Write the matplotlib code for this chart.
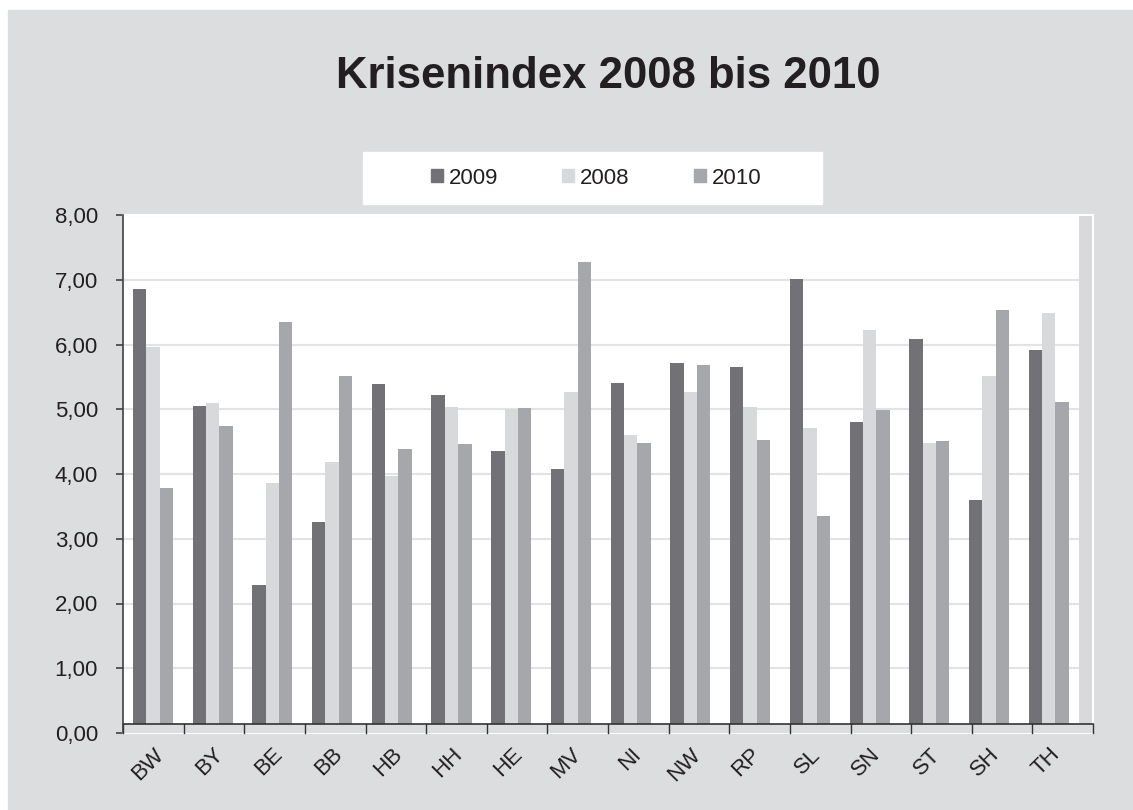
import matplotlib
matplotlib.use("Agg")
import matplotlib.pyplot as plt
import numpy as np
from matplotlib.patches import Rectangle, Patch

plt.rcParams['font.family'] = ['Liberation Sans', 'DejaVu Sans']

laender = ['BW', 'BY', 'BE', 'BB', 'HB', 'HH', 'HE', 'MV',
           'NI', 'NW', 'RP', 'SL', 'SN', 'ST', 'SH', 'TH']
v2009 = [6.86, 5.05, 2.29, 3.26, 5.39, 5.22, 4.36, 4.08,
         5.41, 5.72, 5.65, 7.01, 4.81, 6.09, 3.60, 5.92]
v2008 = [5.96, 5.10, 3.86, 4.19, 3.97, 5.03, 5.00, 5.27,
         4.61, 5.27, 5.03, 4.71, 6.23, 4.48, 5.52, 6.49]
v2010 = [3.78, 4.74, 6.35, 5.52, 4.38, 4.46, 5.02, 7.28,
         4.48, 5.68, 4.52, 3.35, 4.99, 4.51, 6.54, 5.11]
serien = ['2009', '2008', '2010']

bg = '#dcdddf'
farben = ['#727276', '#d8d9db', '#a6a7aa']
txt = '#231f20'

W, H = 1133, 810
fig = plt.figure(figsize=(W / 100, H / 100), dpi=100, facecolor='white')
fig.patches.append(Rectangle((8 / W, 0), 1 - 8 / W, 1 - 10 / H,
                             transform=fig.transFigure, color=bg, zorder=-10))

ax = fig.add_axes([123 / W, (H - 733) / H, (1093 - 123) / W, (733 - 215) / H])
ax.set_facecolor('white')
ax.set_zorder(2)

x = np.arange(len(laender))
bw = 0.224
for i, (name, werte) in enumerate(zip(serien, [v2009, v2008, v2010])):
    ax.bar(x + (i - 1) * bw, werte, width=bw, color=farben[i], label=name, zorder=2)

x0, x1 = -0.5, 15.74
ax.set_xlim(x0, x1)
ax.set_ylim(0, 8)

# rechter grauer Streifen
ax.axvspan(15.5, x1, color='#d9d9db', zorder=1.5, lw=0)

# Kategorienband unten
band = 0.14
ax.add_patch(Rectangle((x0, 0), x1 - x0, band, color=bg, zorder=3, lw=0))
ax.plot([x0, x1], [band, band], color='#333333', lw=1.2, zorder=4, clip_on=False)
for b in np.linspace(x0, x1, 17):
    ax.plot([b, b], [0, band], color='#333333', lw=1.0, zorder=4, clip_on=False)

ax.set_yticks(range(0, 9))
ax.set_yticklabels([f'{v:.2f}'.replace('.', ',') for v in range(0, 9)],
                   fontsize=16, color=txt)
ax.yaxis.grid(True, color='#e3e3e3', lw=1.5)
ax.set_axisbelow(True)
ax.tick_params(axis='y', direction='out', length=5, width=1.2,
               color='#404040', pad=13)

ax.set_xticks(x)
ax.set_xticklabels(laender, rotation=45, ha='right', rotation_mode='anchor',
                   fontsize=16, color=txt)
ax.tick_params(axis='x', length=0, pad=8)

for s in ['top', 'right', 'bottom']:
    ax.spines[s].set_color('white')
    ax.spines[s].set_linewidth(1.5)
ax.spines['left'].set_color('#404040')
ax.spines['left'].set_linewidth(1.2)
ax.spines['left'].set_zorder(5)

fig.text(608 / W, (H - 76) / H, 'Krisenindex 2008 bis 2010', ha='center',
         va='center', fontsize=31.5, fontweight='bold', color=txt)

# Legende mit weissem Kasten
fig.patches.append(Rectangle((363 / W, (H - 204) / H), (822 - 363) / W, 52 / H,
                             transform=fig.transFigure, color='white', zorder=1))
handles = [Patch(color=c) for c in farben]
fig.legend(handles, serien, loc='center', bbox_to_anchor=(596 / W, (H - 178) / H),
           ncol=3, frameon=False, fontsize=16, handlelength=0.55,
           handleheight=0.55, handletextpad=0.25, columnspacing=2.9,
           labelcolor=txt)

fig.savefig('out.png', dpi=100, facecolor=fig.get_facecolor())
